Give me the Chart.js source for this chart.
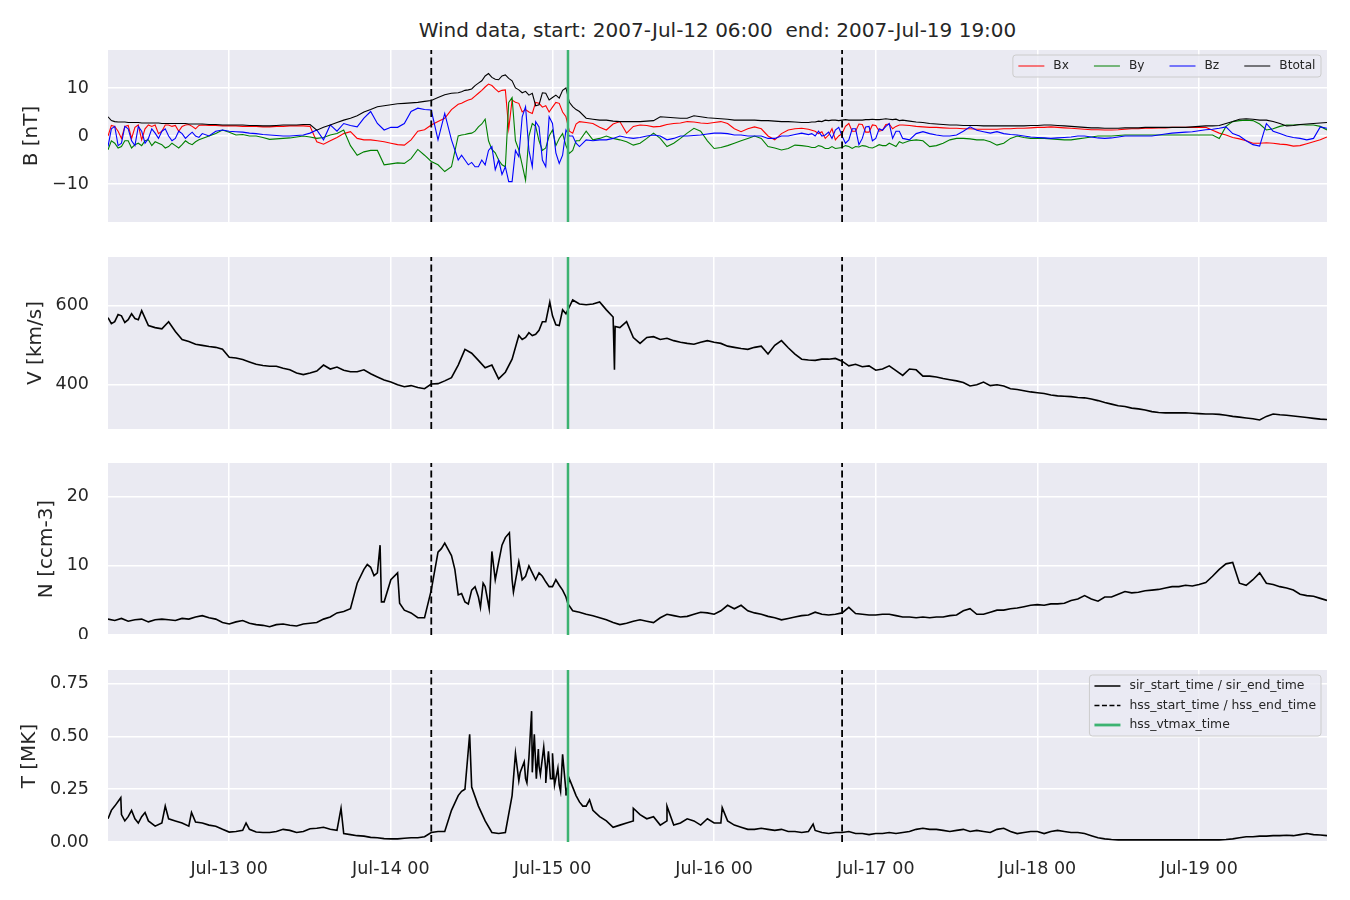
<!DOCTYPE html>
<html><head><meta charset="utf-8">
<script src="https://cdn.jsdelivr.net/npm/chart.js@4.4.0/dist/chart.umd.min.js"></script>
<style>
html,body{margin:0;padding:0;background:#fff;}
body{width:1350px;height:900px;position:relative;overflow:hidden;}
canvas{position:absolute;left:0;}
#title{position:absolute;left:108px;width:1219px;top:17px;text-align:center;font-family:'DejaVu Sans';font-size:20px;line-height:26px;color:#262626;white-space:pre;}
</style></head><body>
<div id="title">Wind data, start: 2007-Jul-12 06:00  end: 2007-Jul-19 19:00</div>
<canvas id="cB"></canvas><canvas id="cV"></canvas><canvas id="cN"></canvas><canvas id="cT"></canvas>
<script>
// ---- time grid: hours since 2007-07-12 06:00 ----
const hours = Array.from({length:182}, (_, i) => i);
const xTickHours = [18, 42, 66, 90, 114, 138, 162];
const xTickLabels = ['Jul-13 00','Jul-14 00','Jul-15 00','Jul-16 00','Jul-17 00','Jul-18 00','Jul-19 00'];
const hssTimes = [48, 109];      // hss_start_time / hss_end_time
const vtmaxTimes = [68.3];       // hss_vtmax_time

const bTicks = [-10, 0, 10];
const vTicks = [400, 600];
const nTicks = [0, 10, 20];
const tTicks = [0, 0.25, 0.5, 0.75];

// ---- magnetic field [nT], hourly ----
const Bx = [0.0,2.0,-0.5,2.2,1.8,-0.8,2.3,2.3,1.0,2.3,
2.2,2.0,2.4,1.5,2.3,2.2,2.2,2.1,2.1,2.1,
2.0,2.0,2.0,1.9,1.9,2.0,2.0,2.1,2.1,2.1,
2.0,-1.2,-1.7,-1.0,-0.3,0.5,0.9,-0.5,-0.8,-0.8,
-1.0,-1.2,-1.5,-1.8,-1.9,-0.8,1.0,1.3,2.3,3.0,
3.7,5.5,6.6,7.2,7.7,8.9,10.2,10.5,9.2,9.6,
7.5,6.8,5.5,4.7,6.8,6.3,6.0,6.8,4.0,0.6,
3.0,2.8,2.6,1.8,1.25,2.5,3.0,0.6,2.0,2.3,
2.2,1.9,2.0,2.4,2.6,2.7,3.0,2.9,2.7,2.6,
2.8,3.0,2.6,1.5,0.9,1.5,1.9,1.5,0.0,-0.8,
0.5,1.25,1.5,1.6,1.4,1.0,0.9,0.2,-0.8,0.5,
2.6,1.0,2.4,0.8,2.2,1.2,2.5,2.0,2.3,2.2,
2.0,1.9,1.8,1.8,1.7,1.6,1.6,1.5,1.5,1.4,
1.4,1.4,1.4,1.5,1.5,1.6,1.6,1.7,1.8,1.8,
1.9,1.8,1.7,1.6,1.5,1.4,1.3,1.3,1.25,1.25,
1.3,1.4,1.5,1.5,1.6,1.6,1.7,1.7,1.8,1.8,
1.8,1.8,1.8,1.8,1.2,0.6,0.2,-0.3,-0.6,-1.0,
-1.5,-1.5,-1.4,-1.5,-1.7,-1.8,-2.1,-2.0,-1.6,-1.2,
-0.8,-0.2];
const By = [-2.9,-1.5,-2.2,-1.0,-1.8,-2.0,-0.8,-1.2,-1.8,-2.2,
-2.0,-1.8,-1.5,-1.2,-0.5,0.0,0.5,1.25,0.8,0.2,
0.3,0.0,0.0,-0.3,-0.7,-0.6,-0.5,-0.4,-0.2,0.0,
-0.2,-0.5,-0.3,0.2,0.5,1.25,-2.0,-4.0,-3.3,-3.0,
-3.0,-6.0,-5.8,-5.6,-5.7,-4.7,-2.8,-4.0,-5.3,-6.0,
-7.4,-6.4,0.0,0.3,0.6,1.9,3.5,-2.8,-5.0,-6.4,
8.0,-2.9,-9.2,2.6,-1.0,-2.5,1.25,-0.5,-2.0,-3.0,
-1.0,1.0,-0.8,-0.5,0.0,-0.5,-0.8,-1.2,-1.9,-1.5,
-0.5,0.6,-0.5,-2.2,-1.5,-0.5,0.6,1.6,1.0,-1.0,
-2.6,-2.4,-2.0,-1.5,-1.0,-0.5,0.0,-0.5,-2.2,-2.5,
-2.9,-2.6,-1.9,-2.0,-2.2,-2.4,-2.2,-2.6,-2.6,-2.4,
-2.2,-2.2,-2.0,-2.4,-2.2,-2.0,-1.5,-2.2,-1.5,-1.0,
-0.8,-1.0,-2.2,-2.0,-1.5,-0.8,-0.5,-0.5,-0.6,-0.8,
-0.8,-1.2,-1.9,-1.5,-0.5,0.0,-0.3,-0.5,-0.5,-0.5,
-0.6,-0.7,-0.8,-0.8,-0.6,-0.4,-0.2,0.0,0.0,0.0,
0.1,0.2,0.2,0.2,0.2,0.2,0.2,0.2,0.2,0.2,
0.2,0.2,0.2,0.2,0.2,-0.5,2.0,3.0,3.2,3.3,
3.2,2.5,1.25,1.5,2.0,2.3,2.3,2.4,2.3,2.3,
2.0,1.25];
const Bz = [-2.2,2.0,-1.5,1.5,-2.0,1.0,-0.5,0.6,1.0,0.0,
-0.5,0.5,0.2,0.0,0.5,0.0,1.0,1.25,1.0,0.9,
0.8,0.6,0.5,0.3,0.2,0.1,0.0,0.0,0.1,0.2,
0.6,1.25,-0.8,2.3,1.0,2.6,2.2,1.9,3.7,5.1,
2.6,1.25,1.8,1.8,2.6,5.1,5.8,5.5,5.4,-0.8,
4.7,-0.8,-5.0,-5.0,-5.5,-6.4,-6.0,-2.2,-5.0,-6.4,
-9.5,-4.3,6.1,-6.4,1.9,-6.4,2.6,-5.7,1.25,0.0,
-2.2,-0.8,-1.0,-0.8,-0.8,-0.5,0.0,-0.3,-0.5,-0.3,
0.0,0.2,0.0,-0.8,-0.5,0.0,0.0,0.1,0.2,0.4,
0.6,0.6,0.5,0.2,0.2,0.0,0.0,0.0,-0.5,-0.5,
0.0,0.0,0.3,0.6,0.3,0.0,0.0,0.8,1.25,0.0,
-0.8,1.5,-0.5,2.0,-0.5,1.2,2.6,1.0,-0.5,-0.8,
0.5,0.9,0.5,0.2,0.0,0.0,0.2,1.0,1.9,1.2,
0.9,0.6,0.9,0.5,0.3,0.2,0.0,-0.2,-0.3,-0.4,
-0.5,-0.4,-0.3,-0.2,0.0,0.0,-0.2,-0.4,-0.5,-0.4,
-0.2,0.0,0.0,0.0,0.0,0.0,0.2,0.4,0.6,0.7,
0.8,0.9,1.1,1.3,1.4,1.6,1.9,0.5,0.0,-1.0,
-1.8,-2.1,2.6,1.0,0.5,0.0,-0.3,-0.5,-0.8,-0.5,
1.9,1.6];
const Btotal = [4.0,3.0,2.9,2.8,2.8,2.7,2.7,2.7,2.6,2.6,
2.6,2.6,2.5,2.5,2.5,2.4,2.4,2.3,2.3,2.3,
2.3,2.2,2.2,2.1,2.1,2.2,2.3,2.3,2.3,2.4,
2.4,1.2,1.8,2.3,2.8,3.3,3.7,4.2,5.0,5.5,
6.1,6.3,6.5,6.7,6.8,6.9,7.0,7.2,7.4,8.0,
8.6,8.9,9.0,9.5,9.8,11.0,12.5,12.2,11.7,12.7,
11.5,9.6,9.3,8.9,6.5,8.9,8.0,7.9,10.0,6.1,
5.1,3.7,3.5,3.3,3.3,3.1,3.0,3.0,3.0,3.0,
3.1,3.2,4.0,3.9,3.8,3.7,3.7,4.2,4.0,3.8,
3.7,3.6,3.5,3.3,3.3,3.3,3.3,3.2,3.2,3.1,
3.0,3.0,2.9,2.8,2.8,2.9,3.0,3.2,3.3,3.3,
3.3,3.3,3.3,3.4,3.4,3.5,3.5,3.5,3.3,3.1,
2.9,2.8,2.6,2.5,2.4,2.3,2.3,2.2,2.2,2.2,
2.1,2.1,2.1,2.1,2.1,2.1,2.1,2.2,2.2,2.3,
2.3,2.2,2.1,2.0,1.9,1.8,1.7,1.7,1.6,1.6,
1.6,1.7,1.7,1.7,1.8,1.8,1.8,1.8,1.8,1.8,
1.8,1.9,2.0,2.1,2.1,2.2,2.6,3.0,3.5,3.6,
3.5,3.3,3.3,3.0,2.6,2.1,2.2,2.4,2.5,2.6,
2.7,2.8];
// extra half-hour readings where the field fluctuates strongly
const bDetailHours = [0.5,1.5,2.5,3.5,4.5,5.5,6.5,7.5,8.5,9.5,10.5,11.5,12.5,13.5,
52.5,53.5,54.5,55.5,56.5,57.5,58.5,59.5,60.5,61.5,62.5,63.5,64.5,65.5,66.5,67.5,68.5,69.5,
104.5,105.5,106.5,107.5,108.5,109.5,110.5,111.5,112.5,113.5,114.5,115.5,116.5,117.5];
const BxDetail = [2.2,1.0,2.0,-0.5,2.3,1.5,2.0,0.5,2.3,2.0,1.0,2.3,2.0,2.2,
6.8,7.5,8.3,9.5,10.8,9.8,9.5,1.5,7.0,5.0,5.0,7.0,6.0,5.0,7.0,5.0,1.0,2.5,
1.2,0.5,-0.5,1.5,0.0,2.0,1.0,2.5,0.8,2.3,1.0,2.4,1.5,2.3];
const ByDetail = [-1.0,-2.5,-1.0,-2.5,-1.5,-1.0,-2.0,-1.5,-2.5,-1.5,-2.5,-1.0,-1.8,-0.8,
0.2,0.5,1.0,2.5,-1.0,-3.5,-6.0,7.0,-1.0,-6.0,0.0,2.0,-3.0,0.0,-2.0,0.5,-3.6,-1.0,
-2.4,-2.0,-2.6,-2.2,-2.5,-2.0,-2.6,-2.3,-2.1,-2.5,-1.8,-2.0,-1.8,-1.2];
const BzDetail = [1.5,-2.0,2.0,-1.0,2.0,-1.5,1.5,-0.5,1.5,-1.0,1.0,-0.5,0.8,-0.3,
-4.0,-6.0,-6.4,-5.0,-3.0,-7.0,-8.0,-9.5,-3.0,4.0,-3.0,3.0,-5.0,4.0,-3.5,-4.0,0.0,-1.5,
0.5,1.0,0.2,-0.5,1.8,-1.5,1.5,-1.8,1.9,-1.0,1.5,2.0,-0.5,1.0];
const BtotalDetail = [3.2,2.9,2.9,2.8,2.8,2.7,2.7,2.7,2.6,2.6,2.6,2.6,2.5,2.5,
9.2,9.6,10.5,11.5,13.0,11.8,12.5,12.0,10.0,9.0,8.5,6.3,9.0,7.5,8.5,9.5,7.0,5.5,
2.9,3.1,3.3,3.3,3.2,3.4,3.3,3.3,3.4,3.5,3.4,3.6,3.4,3.2];

// ---- speed [km/s] ----
const V = [570,560,575,565,568,588,550,545,542,560,
535,515,510,503,500,497,495,490,470,468,
464,458,452,449,447,447,442,438,430,426,
430,435,450,440,445,437,433,433,438,428,
420,412,407,400,395,398,393,390,402,403,
410,418,450,490,480,462,443,450,415,432,
465,525,520,525,538,560,575,550,580,615,
605,603,605,610,590,572,545,560,520,505,
520,522,515,518,512,508,505,503,508,512,
508,505,498,495,492,490,495,498,478,500,
512,494,478,465,463,462,465,465,467,460,
448,452,446,448,437,440,448,436,424,440,
438,422,422,420,416,413,410,406,397,400,
407,398,400,397,390,388,385,382,380,378,
374,372,371,370,368,367,364,360,355,351,
347,345,341,339,336,332,330,329,329,329,
329,328,327,326,326,325,323,320,318,316,
314,311,320,326,324,323,321,319,317,315,
313,312];
const vDetailHours = [0.5,1.5,2.5,3.5,4.5,61.5,62.5,63.5,64.5,65.6,66.5,67.5,75.2,75.3];
const vDetailValues = [555,578,558,580,565,515,532,528,560,610,552,590,438,548];

// ---- density [ccm-3] ----
const N = [2.3,2.1,2.4,2.0,2.2,2.3,1.9,2.2,2.3,2.2,
2.1,2.4,2.3,2.6,2.8,2.5,2.3,1.8,1.6,1.9,
2.1,1.7,1.5,1.4,1.2,1.5,1.6,1.4,1.3,1.6,
1.7,1.8,2.3,2.6,3.2,3.4,3.8,7.5,9.5,9.8,
9.0,4.8,8.0,9.0,3.6,3.2,2.5,2.5,6.5,12.0,
13.3,11.5,5.8,4.8,6.5,5.5,7.0,12.1,10.5,14.1,
8.0,10.6,8.5,9.0,9.0,7.7,7.0,7.2,5.5,3.5,
3.3,3.0,2.8,2.5,2.2,1.8,1.5,1.7,2.0,2.2,
2.0,1.8,2.5,3.0,2.8,2.6,2.7,3.0,3.3,3.2,
3.0,3.5,4.3,3.8,4.3,3.5,3.2,3.0,2.7,2.5,
2.2,2.4,2.6,2.8,2.9,3.3,3.0,2.9,3.0,3.2,
4.0,3.1,3.0,2.9,2.9,3.0,3.0,2.8,2.6,2.6,
2.5,2.6,2.5,2.6,2.6,2.8,2.9,3.5,3.8,3.0,
3.0,3.3,3.6,3.6,3.8,3.9,4.1,4.3,4.4,4.3,
4.5,4.5,4.6,5.0,5.2,5.7,5.2,4.9,5.5,5.5,
5.9,6.3,6.1,6.2,6.4,6.5,6.6,6.8,7.0,7.0,
7.2,7.1,7.3,7.6,8.5,9.5,10.3,10.5,7.5,7.2,
8.0,9.0,7.5,7.3,7.0,6.8,6.5,5.9,5.7,5.6,
5.3,5.0];
const nDetailHours = [38.5,39.5,40.4,40.6,43.3,49.5,51.5,52.5,53.5,54.5,55.3,55.7,56.6,57.5,58.5,59.6,60.2,61.5,62.5,63.5,64.5,65.5,66.5,67.5,68.3];
const nDetailValues = [10.2,8.6,13.0,4.8,4.6,12.5,9.5,6.0,4.5,7.0,4.0,7.5,3.8,8.0,13.0,14.8,6.2,8.0,10.0,8.0,8.5,7.0,8.0,6.5,4.5];

// ---- temperature [MK] ----
const T = [0.11,0.17,0.13,0.12,0.11,0.12,0.10,0.075,0.09,0.11,
0.10,0.09,0.075,0.095,0.09,0.08,0.075,0.06,0.047,0.05,
0.055,0.06,0.047,0.045,0.045,0.05,0.06,0.055,0.045,0.05,
0.063,0.065,0.07,0.06,0.055,0.04,0.035,0.03,0.028,0.022,
0.02,0.016,0.015,0.015,0.018,0.02,0.02,0.025,0.045,0.05,
0.05,0.15,0.22,0.25,0.26,0.17,0.10,0.045,0.04,0.045,
0.22,0.29,0.3,0.33,0.36,0.34,0.3,0.27,0.24,0.26,
0.19,0.17,0.15,0.12,0.10,0.07,0.08,0.09,0.10,0.13,
0.11,0.12,0.08,0.10,0.08,0.09,0.11,0.10,0.08,0.11,
0.09,0.09,0.10,0.08,0.07,0.06,0.06,0.065,0.06,0.055,
0.06,0.05,0.05,0.045,0.05,0.055,0.045,0.04,0.045,0.045,
0.05,0.04,0.04,0.035,0.04,0.04,0.045,0.04,0.045,0.05,
0.06,0.065,0.06,0.06,0.055,0.05,0.055,0.06,0.05,0.055,
0.05,0.045,0.06,0.065,0.05,0.04,0.045,0.05,0.05,0.04,
0.05,0.055,0.05,0.045,0.045,0.04,0.03,0.02,0.015,0.012,
0.01,0.01,0.01,0.01,0.01,0.01,0.01,0.01,0.01,0.01,
0.01,0.01,0.01,0.01,0.01,0.01,0.012,0.015,0.02,0.025,
0.025,0.028,0.028,0.03,0.03,0.032,0.03,0.035,0.04,0.035,
0.033,0.03];
const tDetailHours = [0.5,1.9,2.5,3.5,4.5,5.5,8.5,12.4,20.5,34.6,52.5,53.7,60.5,61.2,61.8,62.2,62.5,62.9,63.3,63.6,63.9,64.2,64.7,65.0,65.4,65.7,66.0,66.3,66.8,67.2,67.5,68.0,68.5,69.5,70.5,71.5,78.0,83.0,91.2,104.7];
const tDetailValues = [0.15,0.21,0.10,0.15,0.09,0.14,0.17,0.14,0.09,0.16,0.24,0.51,0.42,0.33,0.38,0.28,0.40,0.62,0.51,0.30,0.44,0.32,0.45,0.28,0.43,0.30,0.42,0.27,0.35,0.24,0.415,0.22,0.30,0.22,0.17,0.20,0.16,0.17,0.163,0.085];

// ---- helpers ----
function series(base, dh, dv) {
  const pts = base.map((v, i) => ({x: hours[i], y: v}));
  (dh || []).forEach((t, k) => pts.push({x: t, y: dv[k]}));
  pts.sort((a, b) => a.x - b.x);
  return pts;
}
const FONT = 'DejaVu Sans';
const TXT = '#262626';
const X_MIN = 0, X_MAX = 181;
const PAD_TOP = 10;
const TICK_SIZE = 17.5, LABEL_SIZE = 20;

const bgPlugin = {
  id: 'bgPlugin',
  beforeDraw(c) {
    const a = c.chartArea, ctx = c.ctx;
    ctx.save(); ctx.fillStyle = '#EAEAF2';
    ctx.fillRect(a.left, a.top, a.right - a.left, a.bottom - a.top);
    ctx.restore();
  }
};
const boxLegend = {
  id: 'boxLegend',
  afterDatasetsDraw(chart, args, o) {
    if (!o || !o.items) return;
    const ctx = chart.ctx, a = chart.chartArea;
    ctx.save();
    ctx.font = o.fontSize + 'px "' + FONT + '"';
    const widths = o.items.map(it => ctx.measureText(it.label).width);
    const LL = 26, TG = 9;
    let bw;
    if (o.horizontal) bw = o.pad * 2 + widths.reduce((s, w) => s + LL + TG + w, 0) + o.colGap * (o.items.length - 1);
    else bw = o.pad * 2 + LL + TG + Math.max(...widths);
    const bh = o.height;
    const x0 = a.right - o.right - bw, y0 = a.top + o.top;
    const r = 3;
    ctx.beginPath();
    ctx.moveTo(x0 + r, y0); ctx.lineTo(x0 + bw - r, y0); ctx.arcTo(x0 + bw, y0, x0 + bw, y0 + r, r);
    ctx.lineTo(x0 + bw, y0 + bh - r); ctx.arcTo(x0 + bw, y0 + bh, x0 + bw - r, y0 + bh, r);
    ctx.lineTo(x0 + r, y0 + bh); ctx.arcTo(x0, y0 + bh, x0, y0 + bh - r, r);
    ctx.lineTo(x0, y0 + r); ctx.arcTo(x0, y0, x0 + r, y0, r);
    ctx.closePath();
    ctx.fillStyle = 'rgba(234,234,242,0.8)'; ctx.fill();
    ctx.lineWidth = 1; ctx.strokeStyle = '#CCCCCC'; ctx.stroke();
    let cx = x0 + o.pad;
    o.items.forEach((it, i) => {
      const cy = o.horizontal ? y0 + bh / 2 : y0 + o.firstRow + i * o.rowH;
      const lx = o.horizontal ? cx : x0 + o.pad;
      ctx.beginPath(); ctx.setLineDash(it.dash || []);
      ctx.lineWidth = it.width; ctx.strokeStyle = it.color;
      ctx.moveTo(lx, cy); ctx.lineTo(lx + LL, cy); ctx.stroke();
      ctx.setLineDash([]);
      ctx.fillStyle = TXT; ctx.textBaseline = 'middle'; ctx.textAlign = 'left';
      ctx.fillText(it.label, lx + LL + TG, cy);
      if (o.horizontal) cx += LL + TG + widths[i] + o.colGap;
    });
    ctx.restore();
  }
};

function panel(id, plotTop, plotH, o) {
  const last = !!o.last;
  const xAxisH = last ? 52 : 0;
  const padBottom = last ? 0 : 4;
  const cv = document.getElementById(id);
  const H = PAD_TOP + plotH + xAxisH + padBottom;
  cv.width = 1350; cv.height = H;
  cv.style.top = (plotTop - PAD_TOP) + 'px';
  cv.style.width = '1350px'; cv.style.height = H + 'px';
  const datasets = o.series.map((s, k) => ({
    data: s.data, borderColor: s.color, borderWidth: s.width,
    pointRadius: 0, tension: 0, fill: false, order: 20 - k
  }));
  hssTimes.forEach(t => datasets.push({
    data: [{x: t, y: o.min}, {x: t, y: o.max}], borderColor: '#000000', borderWidth: 1.8,
    borderDash: [7, 3.5], pointRadius: 0, order: 2
  }));
  vtmaxTimes.forEach(t => datasets.push({
    data: [{x: t, y: o.min}, {x: t, y: o.max}], borderColor: '#3CB371', borderWidth: 2.5,
    pointRadius: 0, order: 1
  }));
  return new Chart(cv, {
    type: 'line',
    data: {datasets},
    options: {
      responsive: false, animation: false, devicePixelRatio: 1,
      layout: {padding: {top: PAD_TOP, left: 0, right: 23, bottom: padBottom}},
      plugins: {legend: {display: false}, tooltip: {enabled: false}, boxLegend: o.legend || {}},
      scales: {
        x: {
          type: 'linear', min: X_MIN, max: X_MAX,
          border: {display: false},
          grid: {color: '#FFFFFF', lineWidth: 1.5, drawTicks: false},
          ticks: {display: last, padding: 17, font: {family: FONT, size: TICK_SIZE}, color: TXT,
            maxRotation: 0, autoSkip: false,
            callback: v => { const i = xTickHours.indexOf(v); return i >= 0 ? xTickLabels[i] : ''; }},
          afterBuildTicks: s => { s.ticks = xTickHours.map(v => ({value: v})); },
          afterFit: s => { s.height = xAxisH; s.paddingLeft = 0; s.paddingRight = 0; }
        },
        y: {
          min: o.min, max: o.max,
          border: {display: false},
          grid: {color: '#FFFFFF', lineWidth: 1.5, drawTicks: false},
          ticks: {padding: 19, font: {family: FONT, size: TICK_SIZE}, color: TXT, callback: o.fmt},
          afterBuildTicks: s => { s.ticks = o.ticks.map(v => ({value: v})); },
          title: {display: true, text: o.label, color: TXT, font: {family: FONT, size: LABEL_SIZE, lineHeight: 1},
            padding: {top: o.labelPad, bottom: 0}},
          afterFit: s => { s.width = 108; s.paddingTop = 0; s.paddingBottom = 0; }
        }
      }
    },
    plugins: [bgPlugin, boxLegend]
  });
}

const minus = v => String(v).replace('-', '\u2212');

panel('cB', 50, 172, {
  min: -17.9, max: 17.9, ticks: bTicks, fmt: minus, label: 'B [nT]', labelPad: 22,
  series: [
    {data: series(Bx, bDetailHours, BxDetail), color: '#FF0000', width: 1.1},
    {data: series(By, bDetailHours, ByDetail), color: '#008000', width: 1.1},
    {data: series(Bz, bDetailHours, BzDetail), color: '#0000FF', width: 1.1},
    {data: series(Btotal, bDetailHours, BtotalDetail), color: '#000000', width: 1.1}
  ],
  legend: {horizontal: true, fontSize: 12.2, pad: 5.5, colGap: 25, right: 6, top: 5, height: 22,
    items: [
      {label: 'Bx', color: '#FF0000', width: 1},
      {label: 'By', color: '#008000', width: 1},
      {label: 'Bz', color: '#0000FF', width: 1},
      {label: 'Btotal', color: '#000000', width: 1}
    ]}
});
panel('cV', 257, 172, {
  min: 288, max: 724, ticks: vTicks, fmt: v => String(v), label: 'V [km/s]', labelPad: 26,
  series: [{data: series(V, vDetailHours, vDetailValues), color: '#000000', width: 1.6}]
});
panel('cN', 463, 172, {
  min: 0, max: 24.9, ticks: nTicks, fmt: v => String(v), label: 'N [ccm-3]', labelPad: 37,
  series: [{data: series(N, nDetailHours, nDetailValues), color: '#000000', width: 1.6}]
});
panel('cT', 670, 172, {
  min: 0, max: 0.815, ticks: tTicks, fmt: v => v.toFixed(2), label: 'T [MK]', labelPad: 20, last: true,
  series: [{data: series(T, tDetailHours, tDetailValues), color: '#000000', width: 1.6}],
  legend: {horizontal: false, fontSize: 12.4, pad: 5, right: 6, top: 5, height: 61, firstRow: 11, rowH: 19.5,
    items: [
      {label: 'sir_start_time / sir_end_time', color: '#000000', width: 1.5},
      {label: 'hss_start_time / hss_end_time', color: '#000000', width: 1.5, dash: [5, 2.5]},
      {label: 'hss_vtmax_time', color: '#3CB371', width: 2.8}
    ]}
});
</script>
</body></html>
